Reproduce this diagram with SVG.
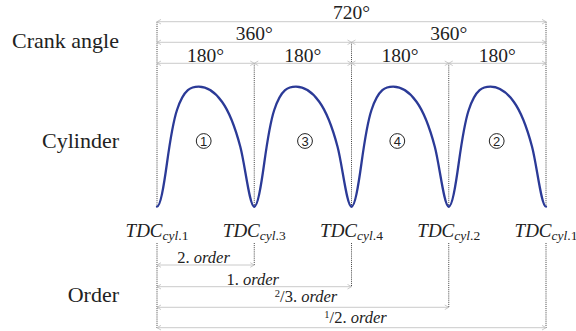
<svg xmlns="http://www.w3.org/2000/svg" width="576" height="331" viewBox="0 0 576 331">
<style>
.lbl{font-family:"Liberation Serif","Times New Roman",serif;font-size:22px;fill:#222}
.deg{font-family:"Liberation Serif","Times New Roman",serif;font-size:19.5px;fill:#222;text-anchor:middle}
.tdc{font-family:"Liberation Serif","Times New Roman",serif;font-size:19px;fill:#222;text-anchor:middle;font-style:italic}
.ord{font-family:"Liberation Serif","Times New Roman",serif;font-size:16.5px;fill:#222;text-anchor:middle}
.dim{stroke:#bdbdbd;stroke-width:0.8;fill:none;marker-start:url(#ah);marker-end:url(#ah)}
.guide{stroke:#111;stroke-width:0.8;stroke-dasharray:1 1.1;fill:none}
.crv{stroke:#2b3a97;stroke-width:2.3;fill:none;stroke-linecap:round}
.cn circle{fill:none;stroke:#222;stroke-width:1}
.cn text{font-family:"Liberation Sans",Arial,sans-serif;font-size:13px;fill:#222;text-anchor:middle}
</style>
<defs>
<marker id="ah" viewBox="-5 -3 6 6" refX="0" refY="0" markerWidth="6" markerHeight="6" markerUnits="userSpaceOnUse" orient="auto-start-reverse">
<path d="M-4,-2.3 L0,0 L-4,2.3" fill="none" stroke="#bdbdbd" stroke-width="0.8"/>
</marker>
<path id="cyc" d="M0,206.7 C3.33,206.7 6.67,187 10,163 C13.33,139 16.67,120 20,110 C27.23,88.3 34.47,86.7 41.7,86.7 C49.47,86.7 57.23,91 65,101.7 C71.1,110.1 77.2,123.6 83.3,146.7 C88,164.3 92.58,206.7 97.25,206.7"/>
</defs>

<g id="row-labels">
<text class="lbl" x="119" y="47.5" text-anchor="end">Crank angle</text>
<text class="lbl" x="119" y="148" text-anchor="end">Cylinder</text>
<text class="lbl" x="119" y="302" text-anchor="end">Order</text>
</g>

<g id="guides">
<path class="guide" d="M157,21.7V206.7M157,243V328"/>
<path class="guide" d="M254.25,63.3V206.7M254.25,243V265"/>
<path class="guide" d="M351.5,42.3V206.7M351.5,243V287"/>
<path class="guide" d="M448.75,63.3V206.7M448.75,243V307.3"/>
<path class="guide" d="M546,21.7V206.7M546,243V328"/>
</g>

<g id="connectors">
<line class="dim" x1="157" y1="21.7" x2="546" y2="21.7"/>
<line class="dim" x1="157" y1="42.3" x2="351.5" y2="42.3"/>
<line class="dim" x1="351.5" y1="42.3" x2="546" y2="42.3"/>
<line class="dim" x1="157" y1="63.3" x2="254.25" y2="63.3"/>
<line class="dim" x1="254.25" y1="63.3" x2="351.5" y2="63.3"/>
<line class="dim" x1="351.5" y1="63.3" x2="448.75" y2="63.3"/>
<line class="dim" x1="448.75" y1="63.3" x2="546" y2="63.3"/>
<line class="dim" x1="157" y1="265" x2="254.25" y2="265"/>
<line class="dim" x1="157" y1="286.7" x2="351.5" y2="286.7"/>
<line class="dim" x1="157" y1="307.3" x2="448.75" y2="307.3"/>
<line class="dim" x1="157" y1="327.7" x2="546" y2="327.7"/>
</g>

<g id="angle-labels">
<text class="deg" x="351.5" y="18.5">720°</text>
<text class="deg" x="254.25" y="40">360°</text>
<text class="deg" x="448.75" y="40">360°</text>
<text class="deg" x="205.6" y="61.5">180°</text>
<text class="deg" x="302.9" y="61.5">180°</text>
<text class="deg" x="400.1" y="61.5">180°</text>
<text class="deg" x="497.4" y="61.5">180°</text>
</g>

<g id="curve" class="crv">
<use href="#cyc" x="157"/>
<use href="#cyc" x="254.25"/>
<use href="#cyc" x="351.5"/>
<use href="#cyc" x="448.75"/>
</g>

<g id="cyl-1" class="cn"><circle cx="203.7" cy="141" r="7.4"/><text x="203.7" y="145.6">1</text></g>
<g id="cyl-3" class="cn"><circle cx="305" cy="141" r="7.4"/><text x="305" y="145.6">3</text></g>
<g id="cyl-4" class="cn"><circle cx="397.3" cy="141" r="7.4"/><text x="397.3" y="145.6">4</text></g>
<g id="cyl-2" class="cn"><circle cx="496.7" cy="141" r="7.4"/><text x="496.7" y="145.6">2</text></g>

<g id="tdc-labels">
<text class="tdc" x="157" y="236.7">TDC<tspan font-size="13.5" dy="3.5">cyl</tspan><tspan font-size="13.5" font-style="normal">.1</tspan></text>
<text class="tdc" x="254.25" y="236.7">TDC<tspan font-size="13.5" dy="3.5">cyl</tspan><tspan font-size="13.5" font-style="normal">.3</tspan></text>
<text class="tdc" x="351.5" y="236.7">TDC<tspan font-size="13.5" dy="3.5">cyl</tspan><tspan font-size="13.5" font-style="normal">.4</tspan></text>
<text class="tdc" x="448.75" y="236.7">TDC<tspan font-size="13.5" dy="3.5">cyl</tspan><tspan font-size="13.5" font-style="normal">.2</tspan></text>
<text class="tdc" x="546" y="236.7">TDC<tspan font-size="13.5" dy="3.5">cyl</tspan><tspan font-size="13.5" font-style="normal">.1</tspan></text>
</g>

<g id="order-labels">
<text class="ord" x="203.6" y="262.5">2. <tspan font-style="italic">order</tspan></text>
<text class="ord" x="252.7" y="285">1. <tspan font-style="italic">order</tspan></text>
<text class="ord" x="306" y="302.3"><tspan font-size="10.5" dy="-5">2</tspan><tspan dy="5">/3. </tspan><tspan font-style="italic">order</tspan></text>
<text class="ord" x="355.5" y="323.3"><tspan font-size="10.5" dy="-5">1</tspan><tspan dy="5">/2. </tspan><tspan font-style="italic">order</tspan></text>
</g>
</svg>
